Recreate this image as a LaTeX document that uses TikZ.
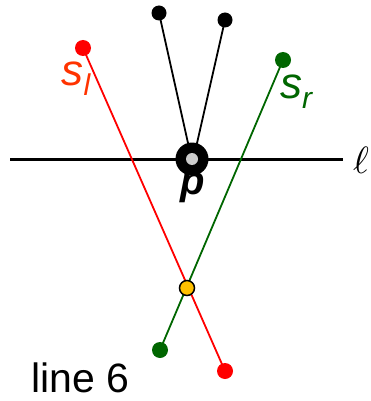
\documentclass[tikz,border=0pt]{standalone}
\usepackage{fontspec}
\setmainfont{Liberation Sans}
\definecolor{redl}{HTML}{FF0000}
\definecolor{lbl}{HTML}{FF3300}
\definecolor{greenr}{HTML}{006600}
\definecolor{yel}{HTML}{FFC000}
\definecolor{pgrey}{HTML}{CCCCCC}
\begin{document}
\begin{tikzpicture}[x=1pt,y=-1pt,
  dotk/.style={circle,fill=black,inner sep=0pt,minimum size=15pt},
  dotr/.style={circle,fill=redl,inner sep=0pt,minimum size=16pt},
  dotg/.style={circle,fill=greenr,inner sep=0pt,minimum size=16pt},
  seg/.style={line width=1.8pt}]
\useasboundingbox (0,0) rectangle (370,401);
\coordinate (l1) at (10,159);
\coordinate (l2) at (343,159);
\draw[line width=3pt] (l1) -- (l2);
\node[anchor=west,inner sep=0pt] (ell) at (353,160) {\scalebox{3.8}{$\ell$}};
% red segment
\node[dotr] (rt) at (83,48) {};
\node[dotr] (rb) at (225,371) {};
\draw[seg,redl] (rt.center) -- (rb.center);
% green segment
\node[dotg] (gt) at (283,60) {};
\node[dotg] (gb) at (160,350) {};
\draw[seg,greenr] (gt.center) -- (gb.center);
% black segments
\node[dotk] (k1) at (159,13) {};
\node[dotk] (k2) at (225,20) {};
\coordinate (pa) at (190,152);
\coordinate (pb) at (195,152);
\draw[seg] (k1.center) -- (pa);
\draw[seg] (k2.center) -- (pb);
% p point
\node[circle,fill=black,inner sep=0pt,minimum size=33pt] (p) at (192,159) {};
\node[circle,fill=pgrey,inner sep=0pt,minimum size=12pt] (pin) at (p) {};
\node[font=\fontsize{40}{40}\selectfont\itshape\bfseries,inner sep=0pt] (plbl) at (193,188) {p};
% intersection
\node[circle,fill=yel,draw=black,line width=1.5pt,inner sep=0pt,minimum size=15pt] (x) at (187,288) {};
% labels
\node[text=lbl,font=\fontsize{44}{44}\selectfont\itshape,inner sep=0pt] (sl) at (76,79) {s\raisebox{-10pt}{\fontsize{30}{30}\selectfont l}};
\node[text=greenr,font=\fontsize{44}{44}\selectfont\itshape,inner sep=0pt] (sr) at (296,92) {s\raisebox{-10pt}{\fontsize{30}{30}\selectfont r}};
\node[anchor=base west,inner sep=0pt,font=\fontsize{41}{41}\selectfont] (cap) at (31,392) {line 6};
\end{tikzpicture}
\end{document}
